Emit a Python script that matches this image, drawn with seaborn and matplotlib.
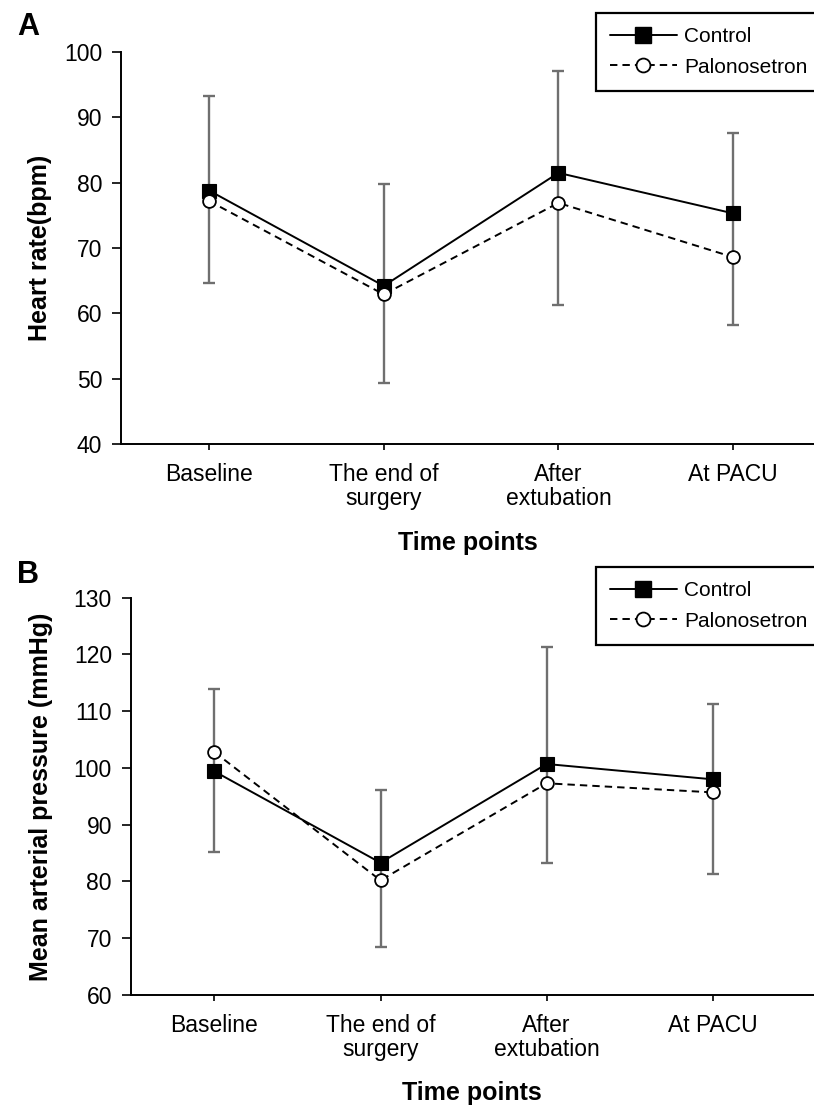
import numpy as np
import pandas as pd
import matplotlib
matplotlib.use("Agg")
import matplotlib.pyplot as plt
import seaborn as sns
from matplotlib.lines import Line2D

# ---------------- data ----------------
time_points = ["Baseline", "The end of\nsurgery", "After\nextubation", "At PACU"]
groups = ["Control", "Palonosetron"]

hr_control = [78.8, 64.2, 81.5, 75.3]
hr_palono = [77.2, 62.9, 76.9, 68.6]
hr_err_hi = [93.3, 79.8, 97.1, 87.6]
hr_err_lo = [64.6, 49.4, 61.2, 58.2]

map_control = [99.4, 83.3, 100.7, 98.0]
map_palono = [102.8, 80.2, 97.3, 95.7]
map_err_hi = [114.0, 96.1, 121.3, 111.2]
map_err_lo = [85.2, 68.5, 83.3, 81.4]

hr_ticks = [40, 50, 60, 70, 80, 90, 100]
map_ticks = [60, 70, 80, 90, 100, 110, 120, 130]

# ---------------- style ----------------
sns.set_style("ticks")
plt.rcParams["font.family"] = ["Liberation Sans", "DejaVu Sans"]
plt.rcParams["axes.linewidth"] = 1.4
plt.rcParams["text.color"] = "black"
plt.rcParams["axes.labelcolor"] = "black"
plt.rcParams["xtick.color"] = "black"
plt.rcParams["ytick.color"] = "black"
plt.rcParams["axes.edgecolor"] = "black"

W, H = 814, 1106
fig = plt.figure(figsize=(W / 100, H / 100), dpi=100)

LW = 1.4
DASH = (3.8, 2.6)


def make_df(ctrl, pal):
    rows = []
    for i, t in enumerate(time_points):
        rows.append({"x": i, "value": ctrl[i], "group": groups[0]})
        rows.append({"x": i, "value": pal[i], "group": groups[1]})
    return pd.DataFrame(rows)


def draw_panel(rect, ctrl, pal, hi, lo, ylim, yticks, ylabel, ylab_x, xlab_y, xlim,
               letter, letter_y, legend_top):
    ax = fig.add_axes(rect)
    x = np.arange(len(time_points))
    hi_a = np.array(hi)
    lo_a = np.array(lo)
    ax.errorbar(x, hi_a, yerr=[hi_a - lo_a, np.zeros_like(hi_a)], fmt="none",
                ecolor="#6f6f6f", elinewidth=1.7, capsize=4.5, capthick=1.7, zorder=1)
    df = make_df(ctrl, pal)
    sns.lineplot(data=df, x="x", y="value", hue="group", style="group",
                 hue_order=groups, style_order=groups,
                 palette={"Control": "black", "Palonosetron": "black"},
                 markers={"Control": "s", "Palonosetron": "o"},
                 dashes={"Control": "", "Palonosetron": DASH},
                 linewidth=LW, ax=ax, legend=False, zorder=3)
    for ln in ax.get_lines():
        if ln.get_marker() == "s":
            ln.set_markersize(10.5)
            ln.set_markerfacecolor("black")
            ln.set_markeredgecolor("black")
            ln.set_markeredgewidth(0.8)
        elif ln.get_marker() == "o":
            ln.set_markersize(9.2)
            ln.set_markerfacecolor("white")
            ln.set_markeredgecolor("black")
            ln.set_markeredgewidth(1.3)
    ax.set_xlim(*xlim)
    ax.set_ylim(*ylim)
    ax.set_yticks(yticks)
    ax.set_xticks(x)
    ax.set_xticklabels(time_points, linespacing=1.05)
    ax.tick_params(axis="y", length=6.5, width=1.2, labelsize=16.5, pad=7)
    ax.tick_params(axis="x", length=4.5, width=1.2, labelsize=16.5, pad=9.5)
    sns.despine(ax=ax, top=True, right=True)
    ax.set_ylabel(ylabel, fontsize=18, fontweight="bold")
    ax.yaxis.set_label_coords(ylab_x, 0.5)
    ax.set_xlabel("Time points", fontsize=18, fontweight="bold")
    ax.xaxis.label.set_verticalalignment("baseline")
    ax.xaxis.set_label_coords(0.5, xlab_y)
    fig.text(17 / W, letter_y, letter, fontsize=22, fontweight="bold",
             ha="left", va="baseline")
    handles = [
        Line2D([], [], color="black", lw=LW, marker="s", markersize=11,
               markerfacecolor="black", markeredgecolor="black"),
        Line2D([], [], color="black", lw=LW, ls=(0, DASH), marker="o", markersize=10,
               markerfacecolor="white", markeredgecolor="black", markeredgewidth=1.3),
    ]
    leg = fig.legend(handles, groups, loc="upper left",
                     bbox_to_anchor=(595.7 / W, legend_top), borderaxespad=0,
                     fontsize=15, frameon=True, fancybox=False, handlelength=3.2,
                     handletextpad=0.38, labelspacing=0.56, borderpad=0.68)
    fr = leg.get_frame()
    fr.set_edgecolor("black")
    fr.set_linewidth(1.6)
    fr.set_facecolor("white")
    fr.set_alpha(1)
    return ax


# Panel A
axA_rect = [121 / W, 1 - 444 / H, (W - 121) / W, (444 - 52) / H]
draw_panel(axA_rect, hr_control, hr_palono, hr_err_hi, hr_err_lo,
           (40, 100), hr_ticks, "Heart rate(bpm)", (52 - 121) / (W - 121),
           (444 - 550) / 392, (-0.504, 3.463), "A", 1 - 35 / H, 1 - 12.7 / H)

# Panel B
axB_rect = [130.7 / W, 1 - 995 / H, (W - 130.7) / W, (995 - 597.7) / H]
draw_panel(axB_rect, map_control, map_palono, map_err_hi, map_err_lo,
           (60, 130), map_ticks, "Mean arterial pressure (mmHg)", (53 - 130.7) / (W - 130.7),
           (995 - 1100) / 397.3, (-0.504, 3.61), "B", 1 - 583 / H, 1 - 566.7 / H)

fig.savefig("out.png", dpi=100)
